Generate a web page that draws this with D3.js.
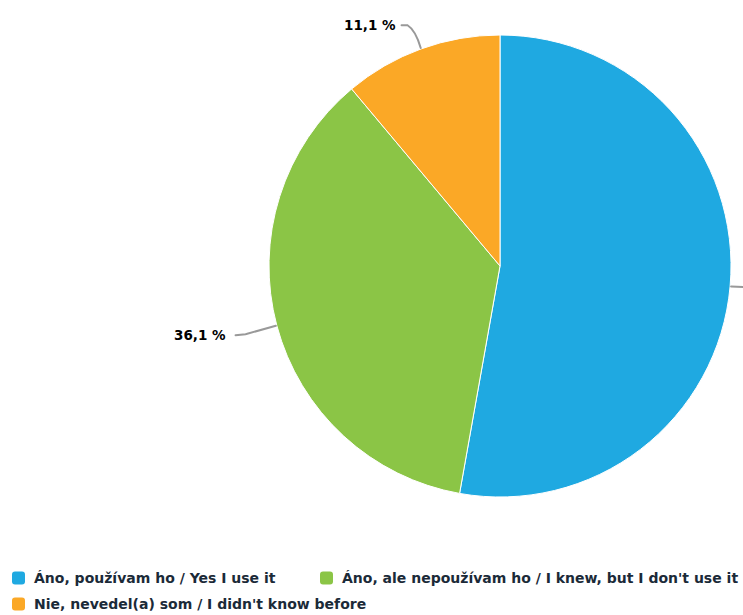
<!DOCTYPE html>
<html>
<head>
<meta charset="utf-8">
<script src="https://cdn.jsdelivr.net/npm/d3@7"></script>
<style>
  html, body { margin: 0; padding: 0; background: #ffffff; }
  svg { display: block; font-family: "DejaVu Sans", "Open Sans", sans-serif; }
</style>
</head>
<body>
<svg id="chart" width="743" height="615"></svg>
<script>
// Survey answers and their shares (percent)
const categories = [
  "Áno, používam ho / Yes I use it",
  "Áno, ale nepoužívam ho / I knew, but I don't use it",
  "Nie, nevedel(a) som / I didn't know before"
];
const values = [52.8, 36.1, 11.1];
const colors = ["#1fa9e1", "#8bc546", "#fba826"];
const valueLabels = ["52,8 %", "36,1 %", "11,1 %"];

const width = 743, height = 615;
const cx = 500, cy = 266, radius = 231;
const textColor = "#1b2a38";

const svg = d3.select("#chart");

const pie = d3.pie().sort(null).value(d => d)(values);
const arc = d3.arc().innerRadius(0).outerRadius(radius);

const g = svg.append("g").attr("transform", `translate(${cx},${cy})`);

g.selectAll("path.slice")
  .data(pie)
  .join("path")
  .attr("class", "slice")
  .attr("d", arc)
  .attr("fill", (d, i) => colors[i])
  .attr("stroke", "#ffffff")
  .attr("stroke-width", 1)
  .attr("stroke-linejoin", "round");

// Data labels with connector lines; a label whose position falls past the
// right edge of the chart area keeps only its connector
pie.forEach((d, i) => {
  const mid = (d.startAngle + d.endAngle) / 2;
  const ex = Math.sin(mid) * (radius + 1);
  const ey = -Math.cos(mid) * (radius + 1);
  const right = Math.sin(mid) >= 0;
  const ox = Math.sin(mid) * (radius + 22);
  const oy = -Math.cos(mid) * (radius + 22);
  let lx, ly;
  if (i === 2) { lx = ox - 8; ly = oy - 3; }
  else if (i === 1) { lx = ox - 20; ly = oy + 4; }
  else { lx = ox + 10; ly = oy; }
  const path = d3.path();
  path.moveTo(ex, ey);
  if (i === 2) {
    path.quadraticCurveTo(ox + 2, oy + 2, lx + 2, ly);
    path.lineTo(lx - 4, ly);
  } else if (i === 1) {
    path.lineTo(lx + 10, ly - 1);
    path.lineTo(lx, ly);
  } else {
    path.lineTo(lx, ly);
  }
  g.append("path")
    .attr("d", path.toString())
    .attr("fill", "none")
    .attr("stroke", "#999999")
    .attr("stroke-width", 2)
    .attr("stroke-linecap", "round");

  const labelX = right ? lx + 5 : lx - 10;
  if (cx + labelX >= width) return;
  g.append("text")
    .attr("x", labelX)
    .attr("y", ly)
    .attr("dy", "0.35em")
    .attr("text-anchor", right ? "start" : "end")
    .attr("font-size", 13.5)
    .attr("font-weight", 700)
    .attr("fill", "#000000")
    .attr("stroke", "#ffffff")
    .attr("stroke-width", 2)
    .attr("paint-order", "stroke")
    .text(valueLabels[i]);
});

// Legend
const legendPos = [
  { x: 12, y: 578 },
  { x: 320, y: 578 },
  { x: 12, y: 604 }
];
const legend = svg.append("g");
categories.forEach((c, i) => {
  const p = legendPos[i];
  legend.append("rect")
    .attr("x", p.x)
    .attr("y", p.y - 6.5)
    .attr("width", 13)
    .attr("height", 13)
    .attr("rx", 3)
    .attr("fill", colors[i]);
  legend.append("text")
    .attr("x", p.x + 22)
    .attr("y", p.y)
    .attr("dy", "0.35em")
    .attr("font-size", 14)
    .attr("font-weight", 700)
    .attr("fill", textColor)
    .text(c);
});
</script>
</body>
</html>
